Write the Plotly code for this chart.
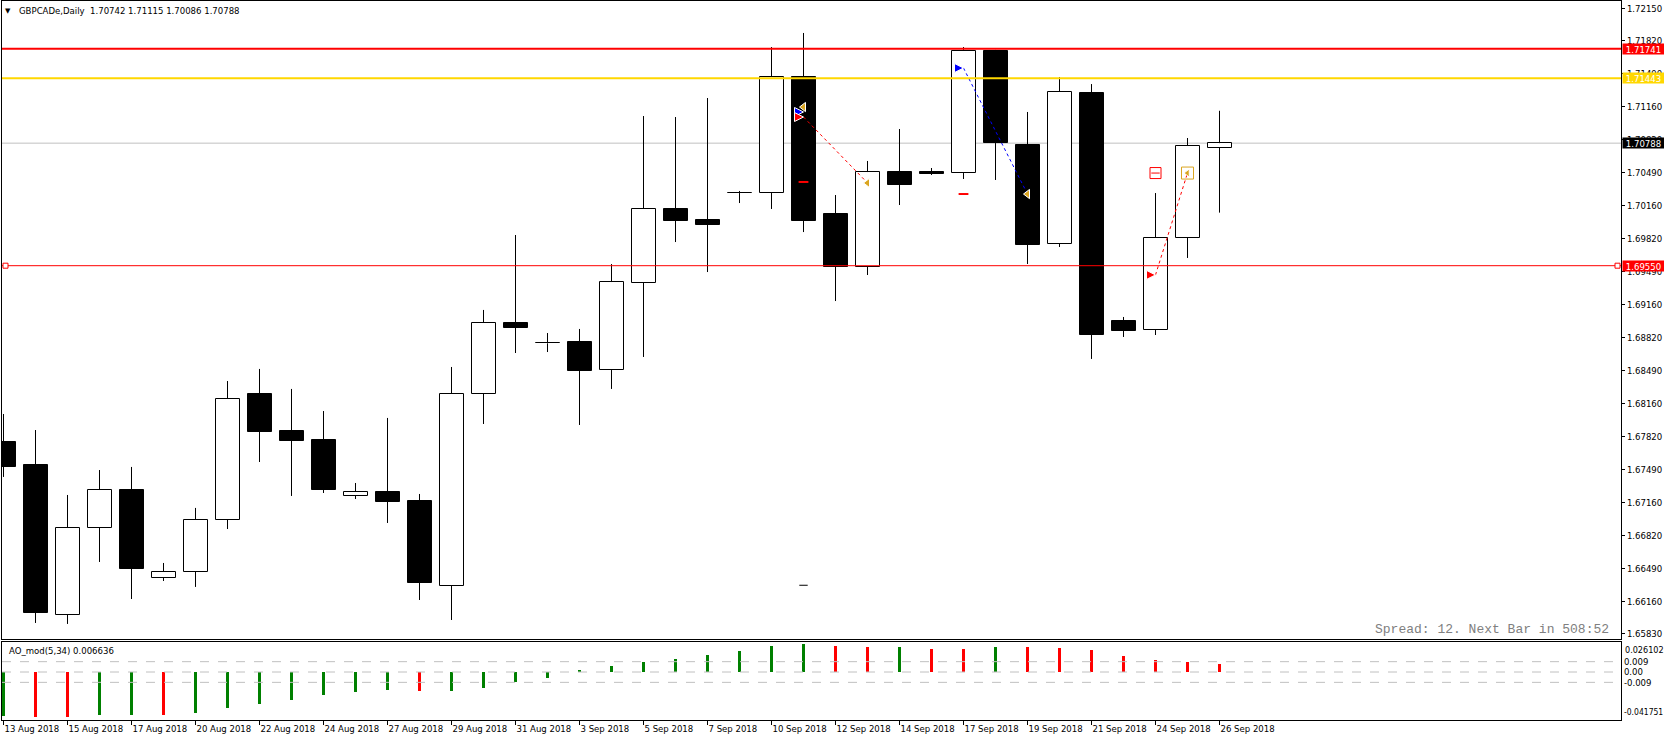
import plotly.graph_objects as go

# ---------------- data ----------------
bar_dates = ["2018-08-13", "2018-08-14", "2018-08-15", "2018-08-16", "2018-08-17", "2018-08-19",
             "2018-08-20", "2018-08-21", "2018-08-22", "2018-08-23", "2018-08-24", "2018-08-26",
             "2018-08-27", "2018-08-28", "2018-08-29", "2018-08-30", "2018-08-31", "2018-09-02",
             "2018-09-03", "2018-09-04", "2018-09-05", "2018-09-06", "2018-09-07", "2018-09-09",
             "2018-09-10", "2018-09-11", "2018-09-12", "2018-09-13", "2018-09-14", "2018-09-16",
             "2018-09-17", "2018-09-18", "2018-09-19", "2018-09-20", "2018-09-21", "2018-09-23",
             "2018-09-24", "2018-09-25", "2018-09-26"]

opens = [1.67769, 1.67537, 1.66022, 1.66900, 1.67284, 1.66395, 1.66456, 1.66981, 1.68254, 1.67880,
         1.67789, 1.67224, 1.67264, 1.67173, 1.66315, 1.68254, 1.68971, 1.68772, 1.68779, 1.68496,
         1.69375, 1.70123, 1.70012, 1.70284, 1.70284, 1.71456, 1.70072, 1.69537, 1.70496, 1.70496,
         1.70486, 1.71719, 1.70769, 1.69769, 1.71294, 1.68991, 1.68900, 1.69830, 1.70742]
highs = [1.68052, 1.67890, 1.67234, 1.67486, 1.67517, 1.66547, 1.67103, 1.68385, 1.68507, 1.68305,
         1.68082, 1.67355, 1.68012, 1.67244, 1.68527, 1.69103, 1.69860, 1.68870, 1.68911, 1.69567,
         1.71062, 1.71052, 1.71244, 1.70305, 1.71759, 1.71901, 1.70264, 1.70608, 1.70931, 1.70537,
         1.71759, 1.71730, 1.71103, 1.71456, 1.71385, 1.69032, 1.70284, 1.70840, 1.71115]
lows = [1.67416, 1.65941, 1.65931, 1.66557, 1.66183, 1.66365, 1.66305, 1.66890, 1.67567, 1.67224,
        1.67254, 1.67193, 1.66951, 1.66173, 1.65971, 1.67951, 1.68668, 1.68678, 1.67941, 1.68305,
        1.68628, 1.69789, 1.69486, 1.70183, 1.70123, 1.69890, 1.69193, 1.69456, 1.70163, 1.70466,
        1.70426, 1.70416, 1.69567, 1.69739, 1.68608, 1.68830, 1.68850, 1.69628, 1.70086]
closes = [1.67517, 1.66042, 1.66900, 1.67284, 1.66486, 1.66456, 1.66981, 1.68204, 1.67870, 1.67779,
          1.67284, 1.67264, 1.67163, 1.66345, 1.68254, 1.68971, 1.68921, 1.68766, 1.68486, 1.69385,
          1.70123, 1.70002, 1.69961, 1.70288, 1.71456, 1.70002, 1.69537, 1.70496, 1.70365, 1.70476,
          1.71719, 1.70789, 1.69759, 1.71305, 1.68850, 1.68890, 1.69830, 1.70759, 1.70788]

ao_values = [-0.0383, -0.0391, -0.0392, -0.0374, -0.0373, -0.0375, -0.0356, -0.0312, -0.0277, -0.0242,
             -0.0199, -0.0172, -0.0155, -0.0164, -0.0163, -0.0137, -0.0088, -0.0050, 0.0015, 0.0048,
             0.0084, 0.0111, 0.0147, 0.0183, 0.0228, 0.0246, 0.0228, 0.0219, 0.0220, 0.0201,
             0.0200, 0.0219, 0.0218, 0.0210, 0.0192, 0.0138, 0.0102, 0.0084, 0.0066]
ao_colors = ["green", "red", "red", "green", "green", "red", "green", "green", "green", "green",
             "green", "green", "green", "red", "green", "green", "green", "green", "green", "green",
             "green", "green", "green", "green", "green", "green", "red", "red", "green", "red",
             "red", "green", "red", "red", "red", "red", "red", "red", "red"]

date_tick_vals = bar_dates[::2]
date_tick_text = ["13 Aug 2018", "15 Aug 2018", "17 Aug 2018", "20 Aug 2018", "22 Aug 2018",
                  "24 Aug 2018", "27 Aug 2018", "29 Aug 2018", "31 Aug 2018", "3 Sep 2018",
                  "5 Sep 2018", "7 Sep 2018", "10 Sep 2018", "12 Sep 2018", "14 Sep 2018",
                  "17 Sep 2018", "19 Sep 2018", "21 Sep 2018", "24 Sep 2018", "26 Sep 2018"]

price_ticks = [1.72150, 1.71820, 1.71490, 1.71160, 1.70820, 1.70490, 1.70160, 1.69820, 1.69490,
               1.69160, 1.68820, 1.68490, 1.68160, 1.67820, 1.67490, 1.67160, 1.66820, 1.66490,
               1.66160, 1.65830]
price_tick_text = ["%.5f" % v for v in price_ticks]

ao_ticks = [0.009, 0.0, -0.009]
ao_tick_text = ["0.009", "0.00", "-0.009"]
ao_max, ao_min = 0.026102, -0.041751

# horizontal levels: (price, colour, width)
level_prices = [1.71741, 1.71443, 1.69550]
level_colors = ["#FF0000", "#FFD700", "#FF0000"]
level_widths = [2, 2, 1]
bid_price = 1.70788

# trade history marks
buy1_x, buy1_y = ["2018-09-11", "2018-09-13"], [1.71052, 1.70386]
buy2_x, buy2_y = ["2018-09-17", "2018-09-19"], [1.71547, 1.70274]
buy3_x, buy3_y = ["2018-09-24", "2018-09-25"], [1.69457, 1.70486]

FONT = "'DejaVu Sans Condensed', 'Liberation Sans', sans-serif"

fig = go.Figure()

# wicks (split so they never cross the bodies)
wx, wy = [], []
for d, o, h, l, c in zip(bar_dates, opens, highs, lows, closes):
    top, bot = max(o, c), min(o, c)
    wx += [d, d, None, d, d, None]
    wy += [h, top, None, bot, l, None]
fig.add_trace(go.Scatter(x=wx, y=wy, mode="lines", line=dict(color="black", width=1),
                         hoverinfo="skip", showlegend=False, xaxis="x", yaxis="y"))

# bodies
body_base = [min(o, c) for o, c in zip(opens, closes)]
body_h = [max(abs(c - o), 0.00003) for o, c in zip(opens, closes)]
body_fill = ["white" if c >= o else "black" for o, c in zip(opens, closes)]
fig.add_trace(go.Bar(x=bar_dates, y=body_h, base=body_base, width=0.75,
                     marker=dict(color=body_fill, line=dict(color="black", width=1)),
                     showlegend=False, hoverinfo="skip", xaxis="x", yaxis="y"))

# AO histogram
fig.add_trace(go.Bar(x=bar_dates, y=ao_values, width=0.09,
                     marker=dict(color=ao_colors, line=dict(width=0)),
                     showlegend=False, hoverinfo="skip", xaxis="x2", yaxis="y2"))

# trade lines
fig.add_trace(go.Scatter(x=buy1_x, y=buy1_y, mode="lines", line=dict(color="red", width=1, dash="dot"),
                         showlegend=False, hoverinfo="skip"))
fig.add_trace(go.Scatter(x=buy2_x, y=buy2_y, mode="lines", line=dict(color="blue", width=1, dash="dot"),
                         showlegend=False, hoverinfo="skip"))
fig.add_trace(go.Scatter(x=buy3_x, y=buy3_y, mode="lines", line=dict(color="red", width=1, dash="dot"),
                         showlegend=False, hoverinfo="skip"))

# trade markers
def mk(x, y, symbol, color, size, lw=1, lc="white"):
    fig.add_trace(go.Scatter(x=x, y=y, mode="markers",
                             marker=dict(symbol=symbol, color=color, size=size,
                                         line=dict(color=lc, width=lw)),
                             showlegend=False, hoverinfo="skip"))

mk([buy1_x[0]], [1.71153], "triangle-left", "#DAA520", 8)
mk([buy1_x[0]], [1.71103], "arrow-right", "blue", 9)
mk([buy1_x[0]], [buy1_y[0]], "arrow-right", "red", 9)
mk([buy1_x[1]], [buy1_y[1]], "triangle-left", "#DAA520", 8)
mk([buy1_x[0]], [1.70396], "line-ew", "red", 7, 2, "red")
mk([buy1_x[0]], [1.66322], "line-ew", "black", 6, 1, "black")
mk([buy2_x[0]], [buy2_y[0]], "arrow-right", "blue", 9)
mk([buy2_x[0]], [1.70274], "line-ew", "red", 7, 2, "red")
mk([buy2_x[1]], [buy2_y[1]], "triangle-left", "#DAA520", 8)
mk([buy3_x[0]], [buy3_y[0]], "arrow-right", "red", 9)
mk([buy3_x[0]], [buy3_y[1]], "square-open", "red", 11, 1, "red")
mk([buy3_x[0]], [buy3_y[1]], "line-ew", "red", 6, 1, "red")
mk([buy3_x[1]], [buy3_y[1]], "square-open", "#DAA520", 12, 1, "#DAA520")
mk([buy3_x[1]], [buy3_y[1]], "triangle-left", "#DAA520", 7)

shapes = []
# bid line (behind candles)
shapes.append(dict(type="line", xref="paper", x0=0, x1=1, yref="y", y0=bid_price, y1=bid_price,
                   line=dict(color="#C0C0C0", width=1), layer="below"))
for p, c, w in zip(level_prices, level_colors, level_widths):
    shapes.append(dict(type="line", xref="paper", x0=0, x1=1, yref="y", y0=p, y1=p,
                       line=dict(color=c, width=w), layer="above"))
# anchor squares of the 1.69550 line
for xa, x0, x1 in [(0, 1, 6), (1, -6, -1)]:
    shapes.append(dict(type="rect", xref="paper", xsizemode="pixel", xanchor=xa, x0=x0, x1=x1,
                       yref="y", ysizemode="pixel", yanchor=level_prices[2], y0=-2.5, y1=2.5,
                       line=dict(color="red", width=1), fillcolor="white", layer="above"))
# AO level lines
for v in ao_ticks:
    shapes.append(dict(type="line", xref="paper", x0=0, x1=1, yref="y2", y0=v, y1=v,
                       line=dict(color="#C0C0C0", width=1, dash="dash"), layer="above"))

annotations = []
# price tags on the right axis
tags = [(level_prices[0], "#FF0000"), (level_prices[1], "#FFD700"), (bid_price, "black"),
        (level_prices[2], "#FF0000")]
for p, c in tags:
    annotations.append(dict(xref="paper", x=1, xanchor="left", xshift=1, yref="y", y=p,
                            yanchor="middle", text="%.5f" % p, showarrow=False, bgcolor=c,
                            width=41, height=10, borderpad=0, align="center",
                            font=dict(family=FONT, size=9.5, color="white")))
annotations.append(dict(xref="paper", x=1, xanchor="left", xshift=2, yref="y2", y=ao_max,
                        yanchor="top", yshift=-1, text="%.6f" % ao_max, showarrow=False,
                        font=dict(family=FONT, size=9, color="black")))
annotations.append(dict(xref="paper", x=1, xanchor="left", xshift=1, yref="y2", y=ao_min,
                        yanchor="bottom", yshift=1, text="%.6f" % ao_min, showarrow=False,
                        font=dict(family=FONT, size=8.5, color="black")))
# headers
annotations.append(dict(xref="paper", x=0, xanchor="left", xshift=1, yref="paper", y=0.9861,
                        yanchor="middle", text="\u25BC", showarrow=False,
                        font=dict(family="DejaVu Sans", size=7, color="black")))
annotations.append(dict(xref="paper", x=0, xanchor="left", xshift=15, yref="paper", y=0.9861,
                        yanchor="middle",
                        text="GBPCADe,Daily&nbsp;&nbsp;%.5f %.5f %.5f %.5f" % (opens[-1], highs[-1], lows[-1], closes[-1]),
                        showarrow=False, font=dict(family=FONT, size=9.5, color="black")))
annotations.append(dict(xref="paper", x=0, xanchor="left", xshift=5, yref="paper", y=0.0960,
                        yanchor="middle", text="AO_mod(5,34) %.6f" % 0.006636, showarrow=False,
                        font=dict(family=FONT, size=9.5, color="black")))
annotations.append(dict(xref="paper", x=1, xanchor="right", xshift=-10, yref="paper", y=0.1252,
                        yanchor="middle", text="Spread: 12. Next Bar in 508:52", showarrow=False,
                        font=dict(family="'Liberation Mono', monospace", size=13, color="#808080")))

axis_common = dict(showline=True, linecolor="black", linewidth=1, mirror=True,
                   showgrid=False, zeroline=False)
xr = [-0.046875, 50.546875]

fig.update_layout(
    width=1664, height=741,
    margin=dict(l=2, r=43, t=1, b=21),
    paper_bgcolor="white", plot_bgcolor="white",
    barmode="overlay", bargap=0,
    showlegend=False,
    xaxis=dict(type="category", categoryorder="array", categoryarray=bar_dates, range=xr,
               domain=[0, 1], anchor="y", showticklabels=False, ticks="", **axis_common),
    xaxis2=dict(type="category", categoryorder="array", categoryarray=bar_dates, range=xr,
                domain=[0, 1], anchor="y2", matches="x", ticks="outside", ticklen=4,
                tickcolor="black", tickvals=date_tick_vals, ticktext=date_tick_text,
                ticklabelposition="outside right",
                tickfont=dict(family=FONT, size=9.5, color="black"), **axis_common),
    yaxis=dict(domain=[0.11266, 1.0], range=[1.65779, 1.72224], side="right", anchor="x",
               ticks="outside", ticklen=3, tickcolor="black", tickvals=price_ticks,
               ticktext=price_tick_text, tickfont=dict(family=FONT, size=9.5, color="black"),
               **axis_common),
    yaxis2=dict(domain=[0, 0.10848], range=[ao_min, ao_max], side="right", anchor="x2",
                ticks="", tickvals=ao_ticks, ticktext=ao_tick_text,
                tickfont=dict(family=FONT, size=9.5, color="black"), **axis_common),
    shapes=shapes,
    annotations=annotations,
)

fig.write_html("out.html", config={"displayModeBar": False})
